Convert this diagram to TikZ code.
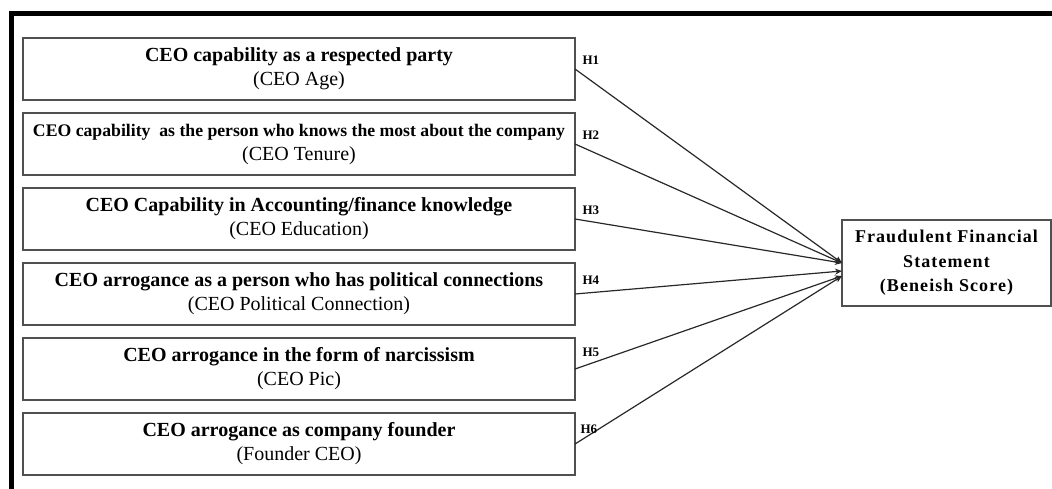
\documentclass[tikz,border=0pt]{standalone}
\usepackage{fontspec}
\setmainfont{Liberation Serif}
\newfontfamily\spacedserif[LetterSpace=6]{Liberation Serif}
\usetikzlibrary{arrows.meta,positioning}
\definecolor{boxGray}{RGB}{80,80,80}
\definecolor{lineGray}{RGB}{40,40,40}
\tikzset{
  factor box/.style={draw=boxGray,line width=1.5pt,outer sep=0pt,minimum width=552pt,minimum height=62pt,inner sep=0pt,align=center,font=\fontsize{20}{24}\selectfont},
  outcome box/.style={draw=boxGray,line width=1.5pt,outer sep=0pt,minimum width=209pt,minimum height=86pt,inner sep=0pt,align=center,font=\spacedserif\bfseries\fontsize{18}{24.5}\selectfont},
  hyp arrow/.style={-{Stealth[length=7pt,width=6pt]},line width=1.2pt,draw=lineGray},
  hyp label/.style={font=\bfseries\fontsize{13}{14}\selectfont,anchor=south west,inner sep=0pt,xshift=7pt,yshift=4pt},
  frame line/.style={line width=5pt,draw=black}
}
\begin{document}
\begin{tikzpicture}[node distance=13pt]
        \useasboundingbox (0,0) rectangle (1052pt,-488pt);
        \draw[frame line] (11.5pt,-500pt) |- (1070pt,-13.5pt);
        \node[factor box] (age) at (299pt,-69pt) {\textbf{CEO capability as a respected party}\\(CEO Age)};
        \node[factor box,below=of age] (tenure) {{\fontsize{17.7}{24}\selectfont\textbf{CEO capability\ \ as the person who knows the most about the company}}\\(CEO Tenure)};
        \node[factor box,below=of tenure] (education) {\textbf{CEO Capability in Accounting/finance knowledge}\\(CEO Education)};
        \node[factor box,below=of education] (political) {\textbf{CEO arrogance as a person who has political connections}\\(CEO Political Connection)};
        \node[factor box,below=of political] (pic) {\textbf{CEO arrogance in the form of narcissism}\\(CEO Pic)};
        \node[factor box,below=of pic] (founder) {\textbf{CEO arrogance as company founder}\\(Founder CEO)};
        \node[outcome box] (fraud) at (946.5pt,-263pt) {Fraudulent Financial\\Statement\\(Beneish Score)};
        \draw[hyp arrow] (age.east) node[hyp label] {H1} -- (fraud.west);
        \draw[hyp arrow] (tenure.east) node[hyp label] {H2} -- (fraud.west);
        \draw[hyp arrow] (education.east) node[hyp label] {H3} -- (fraud.west);
        \draw[hyp arrow] (political.east) node[hyp label,yshift=5pt] {H4} -- ([yshift=-8pt]fraud.west);
        \draw[hyp arrow] (pic.east) node[hyp label,yshift=8pt] {H5} -- ([yshift=-13pt]fraud.west);
        \draw[hyp arrow] (founder.east) node[hyp label,yshift=6pt,xshift=-2pt] {H6} -- ([yshift=-13pt]fraud.west);
      \end{tikzpicture}
\end{document}
